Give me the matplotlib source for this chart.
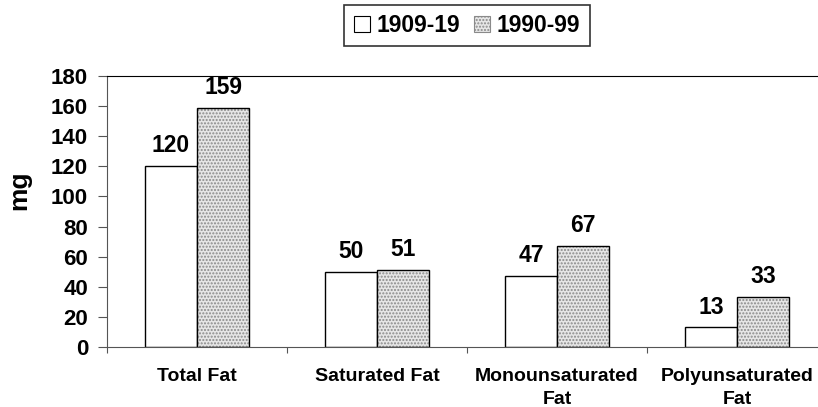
import matplotlib.pyplot as plt
import matplotlib.patches as mpatches
import numpy as np

plt.rcParams['font.family'] = ['Liberation Sans', 'DejaVu Sans']
plt.rcParams['font.weight'] = 'bold'

# Data
categories = ['Total Fat', 'Saturated Fat', 'Monounsaturated\nFat', 'Polyunsaturated\nFat']
series_names = ['1909-19', '1990-99']
values_1909 = [120, 50, 47, 13]
values_1990 = [159, 51, 67, 33]

x = np.arange(len(categories))
w = 0.29

fig = plt.figure(figsize=(8.18, 4.07), dpi=100)
ax = fig.add_axes([107 / 818, 1 - 347 / 407, 720 / 818, 271 / 407])

# white bars
ax.bar(x - w / 2, values_1909, w, color='white', edgecolor='black', linewidth=1)
# stippled bars: hatch layer then outline
ax.bar(x + w / 2, values_1990, w, color='#e6e6e6', edgecolor='#8a8a8a',
       hatch='.....', linewidth=0)
ax.bar(x + w / 2, values_1990, w, fill=False, edgecolor='black', linewidth=1)

for xi, v in zip(x - w / 2, values_1909):
    ax.annotate(str(v), (xi, v), xytext=(0, 10), textcoords='offset points',
                ha='center', va='baseline', fontsize=16.5, fontweight='bold')
for xi, v in zip(x + w / 2, values_1990):
    ax.annotate(str(v), (xi, v), xytext=(0, 10), textcoords='offset points',
                ha='center', va='baseline', fontsize=16.5, fontweight='bold')

ax.set_xlim(-0.5, len(categories) - 0.5)
ax.set_ylim(0, 180)
ax.set_yticks(np.arange(0, 181, 20))
ax.set_xticks(np.arange(-0.5, len(categories), 1))
ax.set_xticklabels([])
ax.set_xticks(x, minor=True)
ax.set_xticklabels(categories, minor=True, fontsize=14, fontweight='bold', linespacing=1.5)
ax.tick_params(axis='x', which='minor', length=0, pad=15)
ax.tick_params(axis='x', which='major', length=4.5, direction='out', color='#555555')
ax.tick_params(axis='y', length=6.5, pad=7, direction='out', labelsize=16, color='#555555')
for lab in ax.get_yticklabels():
    lab.set_fontweight('bold')

ax.spines['right'].set_visible(False)
ax.spines['left'].set_color('#555555')
ax.spines['bottom'].set_color('#555555')
ax.spines['top'].set_color('black')

ax.set_ylabel('mg', fontsize=19, fontweight='bold')
ax.yaxis.set_label_coords(-0.105, 0.58)

handles = [mpatches.Patch(facecolor='white', edgecolor='black', linewidth=0.8),
           mpatches.Patch(facecolor='#e6e6e6', edgecolor='#8a8a8a', hatch='.....', linewidth=0.8)]
leg = fig.legend(handles, series_names, loc='upper center', bbox_to_anchor=(467 / 818, 1 - 5 / 407),
                 ncol=2, frameon=True, fancybox=False, edgecolor='black', borderaxespad=0,
                 prop={'size': 16.5, 'weight': 'bold'}, handlelength=0.7, handleheight=0.7,
                 handletextpad=0.3, columnspacing=0.6, borderpad=0.4)
leg.get_frame().set_linewidth(1.2)

fig.savefig('out.png', dpi=100)
